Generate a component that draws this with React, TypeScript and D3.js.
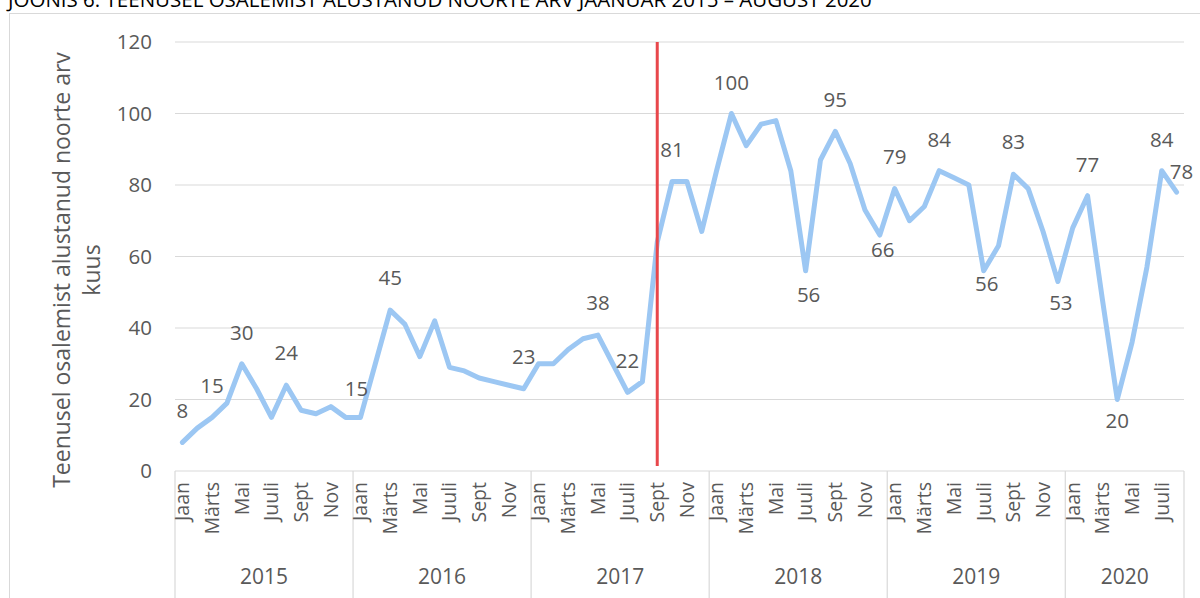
import React from "react";
import * as d3 from "d3";

const years = ["2015", "2016", "2017", "2018", "2019", "2020"];
const monthNames = ["Jaan", "", "Märts", "", "Mai", "", "Juuli", "", "Sept", "", "Nov", ""];
const values2015 = [8, 12, 15, 19, 30, 23, 15, 24, 17, 16, 18, 15];
const values2016 = [15, 30, 45, 41, 32, 42, 29, 28, 26, 25, 24, 23];
const values2017 = [30, 30, 34, 37, 38, 30, 22, 25, 64, 81, 81, 67];
const values2018 = [84, 100, 91, 97, 98, 84, 56, 87, 95, 86, 73, 66];
const values2019 = [79, 70, 74, 84, 82, 80, 56, 63, 83, 79, 67, 53];
const values2020 = [68, 77, 48, 20, 36, 57, 84, 78];
const yTicks = [0, 20, 40, 60, 80, 100, 120];
// labelled points: month index, label offset (dx, dy)
const labelIdx = [0, 2, 4, 7, 12, 14, 23, 28, 30, 33, 37, 42, 44, 47, 48, 51, 54, 56, 59, 61, 63, 66, 67];
const labelDx = [0, 0, 0, 0, -4, 0, 0, 0, 0, 0, 0, 3, 0, 3, 0, 0, 3, 0, 3, 0, 0, 0, 5];
const labelDy = [-32, -32, -31, -32, -29, -32, -32, -32, -32, -32, -31, 24, -32, 15, -32, -31, 13.5, -32, 21, -31, 21, -31, -20];
const markerMonth = 32; // Sept 2017
const title = "JOONIS 6. TEENUSEL OSALEMIST ALUSTANUD NOORTE ARV JAANUAR 2015 – AUGUST 2020";
const yTitle1 = "Teenusel osalemist alustanud noorte arv";
const yTitle2 = "kuus";

const values = [...values2015, ...values2016, ...values2017, ...values2018, ...values2019, ...values2020];
const yearLengths = [12, 12, 12, 12, 12, 8];

const W = 1200;
const H = 598;
const left = 175;
const right = 1184;
const top = 42;
const bottom = 471;
const FONT = "'Open Sans', sans-serif";
const GREY = "#595959";

export default function App() {
  const idx = values.map((_, i) => i);
  const x = d3.scaleBand<number>().domain(idx).range([left, right]).padding(0);
  const cx = (i: number) => (x(i) as number) + x.bandwidth() / 2;
  const y = d3.scaleLinear().domain([0, 120]).range([bottom, top]);
  const line = d3
    .line<number>()
    .x((_, i) => cx(i))
    .y((d) => y(d));

  const yearStarts: number[] = [];
  let acc = 0;
  yearLengths.forEach((n) => {
    yearStarts.push(acc);
    acc += n;
  });

  return (
    <svg
      width={W}
      height={H}
      style={{ position: "absolute", left: 0, top: 0, background: "#fff" }}
      fontFamily={FONT}
    >
      <rect x={9.5} y={13.5} width={1200} height={700} fill="none" stroke="#D9D9D9" strokeWidth={1} />
      <text x={8} y={7} fontSize={20.5} fill="#000" fontFamily={FONT}>
        {title}
      </text>

      {yTicks.map((t) => (
        <g key={t}>
          {t > 0 && (
            <line x1={left} x2={right} y1={y(t)} y2={y(t)} stroke="#D9D9D9" strokeWidth={1.2} />
          )}
          <text x={152} y={y(t)} dy="0.35em" textAnchor="end" fontSize={20.5} fill={GREY}>
            {t}
          </text>
        </g>
      ))}

      <g transform="translate(62,270) rotate(-90)">
        <text x={0} y={0} dy="0.35em" textAnchor="middle" fontSize={23} fill={GREY}>
          {yTitle1}
        </text>
      </g>
      <g transform="translate(92,270) rotate(-90)">
        <text x={0} y={0} dy="0.35em" textAnchor="middle" fontSize={23} fill={GREY}>
          {yTitle2}
        </text>
      </g>

      {/* category axis */}
      <line x1={left} x2={right} y1={bottom} y2={bottom} stroke="#D9D9D9" strokeWidth={1.2} />
      {yearStarts.map((s, k) => {
        const x0 = x(s) as number;
        const x1 = k === years.length - 1 ? right : (x(s + yearLengths[k]) as number);
        return (
          <g key={years[k]}>
            <line x1={x0} x2={x0} y1={bottom} y2={H} stroke="#D9D9D9" strokeWidth={1.2} />
            <text x={(x0 + x1) / 2} y={577} dy="0.35em" textAnchor="middle" fontSize={21} fill={GREY}>
              {years[k]}
            </text>
          </g>
        );
      })}
      <line x1={right} x2={right} y1={bottom} y2={H} stroke="#D9D9D9" strokeWidth={1.2} />

      {idx.map((i) => {
        const name = monthNames[i % 12];
        if (!name) return null;
        return (
          <g key={"m" + i} transform={`translate(${cx(i)},482) rotate(-90)`}>
            <text x={0} y={0} dy="0.35em" textAnchor="end" fontSize={19.5} fill={GREY}>
              {name}
            </text>
          </g>
        );
      })}

      <path
        d={line(values) || ""}
        fill="none"
        stroke="#9CC7F3"
        strokeWidth={5}
        strokeLinejoin="round"
        strokeLinecap="round"
      />

      <line
        x1={cx(markerMonth)}
        x2={cx(markerMonth)}
        y1={top}
        y2={466}
        stroke="#E8474B"
        strokeWidth={3}
      />

      {labelIdx.map((i, k) => (
        <text
          key={"l" + k}
          x={cx(i) + labelDx[k]}
          y={y(values[i]) + labelDy[k]}
          dy="0.35em"
          textAnchor="middle"
          fontSize={20.5}
          fill={GREY}
        >
          {values[i]}
        </text>
      ))}
    </svg>
  );
}
